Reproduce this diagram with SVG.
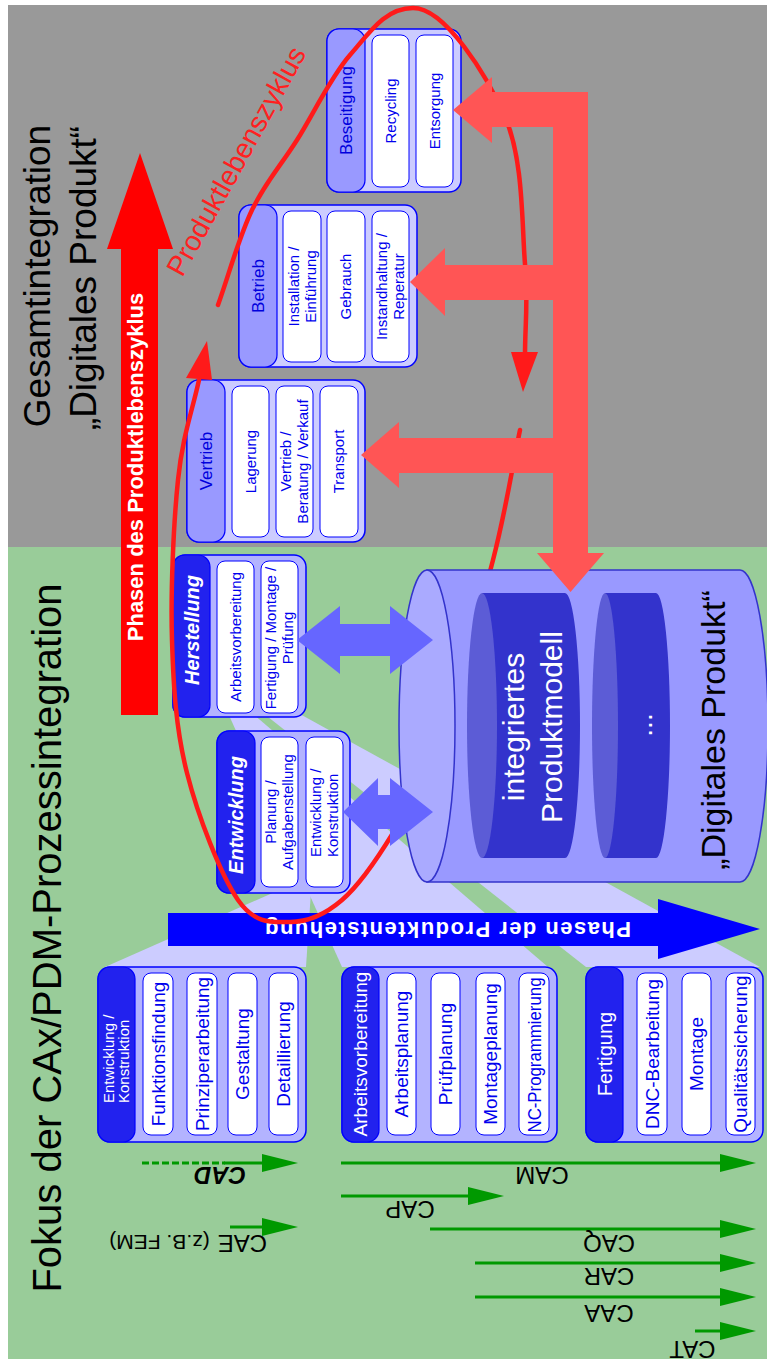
<svg xmlns="http://www.w3.org/2000/svg" width="767" height="1361" viewBox="0 0 767 1361">
<defs>
<style>
text{font-family:"Liberation Sans",Arial,sans-serif}
.ob{fill:#CCCCFF;stroke:#0000FF;stroke-width:1.5}
.obg{fill:#B3B3FF;stroke:#0000FF;stroke-width:1.5}
.hl{fill:#9999FF;stroke:#0000FF;stroke-width:1.2}
.hd{fill:#2222EE;stroke:#0000FF;stroke-width:1.2}
.it{fill:#FFFFFF;stroke:#0000FF;stroke-width:1}
.ti{fill:#0000EE;font-size:15px;text-anchor:middle}
.tb{fill:#0000EE;font-size:19px;text-anchor:middle}
.th{fill:#0000DD;font-size:17px;text-anchor:middle}
.tw{fill:#FFFFFF;text-anchor:middle}
.beam{fill:#CCCCFF}
.g{stroke:#009900;stroke-width:3;fill:none}
.gl{fill:#000000;font-size:24px;text-anchor:middle}
.big{fill:#000000;text-anchor:middle}
.rc{fill:none;stroke:#FF1A1A;stroke-width:4.5;stroke-linecap:round}
</style>
<marker id="gh" markerUnits="userSpaceOnUse" markerWidth="36" markerHeight="18" refX="0" refY="9" orient="auto" viewBox="0 0 36 18"><path d="M0,0 L36,9 L0,18 Z" fill="#009900"/></marker>
</defs>

<rect x="0" y="0" width="767" height="1361" fill="#FFFFFF"/>
<rect x="8" y="5" width="759" height="542" fill="#999999"/>
<rect x="8" y="547" width="759" height="812" fill="#99CC99"/>

<g id="beams">
<polygon class="beam" points="302,880 312,876 306,967 105,967"/>
<polygon class="beam" points="228,713 252,713 548,967 342,967"/>
<polygon class="beam" points="263,713 298,713 760,967 586,967"/>
</g>

<g id="phase-arrow-red">
<polygon points="121,715 121,249 107,249 140,153 173,249 158,249 158,715" fill="#FF0000"/>
<text class="tw" transform="translate(143,467) rotate(-90)" font-size="22" font-weight="bold">Phasen des Produktlebenszyklus</text>
</g>

<g id="phase-arrow-blue">
<polygon points="168,913 658,913 658,899 760,929 658,959 658,946 168,946" fill="#0000FF"/>
<text class="tw" transform="translate(448,930) rotate(180)" y="8" font-size="22" font-weight="bold" textLength="366" lengthAdjust="spacing">Phasen der Produktentstehung</text>
</g>

<g id="box-vertrieb">
<rect class="ob" x="187" y="380" width="178" height="162" rx="12"/>
<rect class="hl" x="187" y="380" width="38" height="162" rx="12"/>
<rect class="it" x="232" y="386" width="37" height="151" rx="8"/>
<rect class="it" x="276" y="386" width="37" height="151" rx="8"/>
<rect class="it" x="320" y="386" width="38" height="151" rx="8"/>
<text class="th" transform="translate(206,461) rotate(-90)" dy="0.35em">Vertrieb</text>
<text class="ti" transform="translate(250.5,461.5) rotate(-90)" dy="0.35em">Lagerung</text>
<text class="ti" transform="translate(294.5,461.5) rotate(-90)"><tspan x="0" y="-3.3">Vertrieb /</tspan><tspan x="0" y="13.8">Beratung / Verkauf</tspan></text>
<text class="ti" transform="translate(339,461.5) rotate(-90)" dy="0.35em">Transport</text>
</g>

<g id="box-betrieb">
<rect class="ob" x="239" y="205" width="178" height="162" rx="12"/>
<rect class="hl" x="239" y="205" width="38" height="162" rx="12"/>
<rect class="it" x="283" y="211" width="38" height="151" rx="8"/>
<rect class="it" x="327" y="211" width="38" height="151" rx="8"/>
<rect class="it" x="372" y="211" width="37" height="151" rx="8"/>
<text class="th" transform="translate(258,286) rotate(-90)" dy="0.35em">Betrieb</text>
<text class="ti" transform="translate(302,286.5) rotate(-90)"><tspan x="0" y="-3.3">Installation /</tspan><tspan x="0" y="13.8">Einführung</tspan></text>
<text class="ti" transform="translate(346,286.5) rotate(-90)" dy="0.35em">Gebrauch</text>
<text class="ti" transform="translate(390.5,286.5) rotate(-90)"><tspan x="0" y="-3.3">Instandhaltung /</tspan><tspan x="0" y="13.8">Reperatur</tspan></text>
</g>

<g id="box-beseitigung">
<rect class="ob" x="327" y="29" width="134" height="163" rx="12"/>
<rect class="hl" x="327" y="29" width="38" height="163" rx="12"/>
<rect class="it" x="372" y="35" width="37" height="152" rx="8"/>
<rect class="it" x="416" y="35" width="37" height="152" rx="8"/>
<text class="th" transform="translate(346,110.5) rotate(-90)" dy="0.35em">Beseitigung</text>
<text class="ti" transform="translate(390.5,111) rotate(-90)" dy="0.35em">Recycling</text>
<text class="ti" transform="translate(434.5,111) rotate(-90)" dy="0.35em">Entsorgung</text>
</g>

<g id="box-herstellung">
<rect class="obg" x="173" y="555" width="133" height="162" rx="12"/>
<rect class="hd" x="173" y="555" width="37" height="162" rx="12"/>
<rect class="it" x="217" y="561" width="37" height="152" rx="8"/>
<rect class="it" x="261" y="561" width="37" height="152" rx="8"/>
<text class="tw" transform="translate(191.5,630) rotate(-90)" dy="0.35em" font-size="20" font-weight="bold" font-style="italic">Herstellung</text>
<text class="ti" transform="translate(235.5,637) rotate(-90)" dy="0.35em">Arbeitsvorbereitung</text>
<text class="ti" transform="translate(279.5,638) rotate(-90)" font-size="14"><tspan x="0" y="-3.5">Fertigung / Montage /</tspan><tspan x="0" y="13">Prüfung</tspan></text>
</g>

<g id="box-entwicklung">
<rect class="obg" x="217" y="731" width="133" height="162" rx="12"/>
<rect class="hd" x="217" y="731" width="38" height="162" rx="12"/>
<rect class="it" x="261" y="737" width="37" height="150" rx="8"/>
<rect class="it" x="306" y="737" width="37" height="150" rx="8"/>
<text class="tw" transform="translate(236,815) rotate(-90)" dy="0.35em" font-size="20" font-weight="bold" font-style="italic">Entwicklung</text>
<text class="ti" transform="translate(279.5,812) rotate(-90)"><tspan x="0" y="-3.3">Planung /</tspan><tspan x="0" y="13.8">Aufgabenstellung</tspan></text>
<text class="ti" transform="translate(324.5,857) rotate(-90)" style="text-anchor:start"><tspan x="0" y="-3.3">Entwicklung /</tspan><tspan x="0" y="13.8">Konstruktion</tspan></text>
</g>

<g id="box-entwicklung-konstruktion">
<rect class="obg" x="98" y="967" width="208" height="175" rx="12"/>
<rect class="hd" x="98" y="967" width="37" height="175" rx="12"/>
<rect class="it" x="143" y="973" width="30" height="162" rx="8"/>
<rect class="it" x="187" y="973" width="30" height="162" rx="8"/>
<rect class="it" x="228" y="973" width="29" height="162" rx="8"/>
<rect class="it" x="269" y="973" width="29" height="162" rx="8"/>
<text class="tw" transform="translate(116.5,1103) rotate(-90)" font-size="15" style="text-anchor:start"><tspan x="0" y="-2.8">Entwicklung /</tspan><tspan x="0" y="12.5">Konstruktion</tspan></text>
<text class="tb" transform="translate(158,1054) rotate(-90)" dy="0.35em">Funktionsfindung</text>
<text class="tb" transform="translate(202,1054) rotate(-90)" dy="0.35em">Prinziperarbeitung</text>
<text class="tb" transform="translate(242.5,1054) rotate(-90)" dy="0.35em">Gestaltung</text>
<text class="tb" transform="translate(283.5,1054) rotate(-90)" dy="0.35em">Detaillierung</text>
</g>

<g id="box-arbeitsvorbereitung">
<rect class="obg" x="342" y="967" width="215" height="175" rx="12"/>
<rect class="hd" x="342" y="967" width="37" height="175" rx="12"/>
<rect class="it" x="387" y="973" width="29" height="162" rx="8"/>
<rect class="it" x="431" y="973" width="29" height="162" rx="8"/>
<rect class="it" x="476" y="973" width="29" height="162" rx="8"/>
<rect class="it" x="519" y="973" width="30" height="162" rx="8"/>
<text class="tw" transform="translate(360.5,1054) rotate(-90)" dy="0.35em" font-size="19">Arbeitsvorbereitung</text>
<text class="tb" transform="translate(401.5,1054) rotate(-90)" dy="0.35em">Arbeitsplanung</text>
<text class="tb" transform="translate(445.5,1054) rotate(-90)" dy="0.35em">Prüfplanung</text>
<text class="tb" transform="translate(490.5,1054) rotate(-90)" dy="0.35em">Montageplanung</text>
<text class="tb" transform="translate(534,1055) rotate(-90)" dy="0.35em" textLength="155" lengthAdjust="spacingAndGlyphs">NC-Programmierung</text>
</g>

<g id="box-fertigung">
<rect class="obg" x="586" y="967" width="177" height="175" rx="12"/>
<rect class="hd" x="586" y="967" width="37" height="175" rx="12"/>
<rect class="it" x="637" y="973" width="30" height="162" rx="8"/>
<rect class="it" x="682" y="973" width="29" height="162" rx="8"/>
<rect class="it" x="726" y="973" width="29" height="162" rx="8"/>
<text class="tw" transform="translate(604.5,1054) rotate(-90)" dy="0.35em" font-size="20">Fertigung</text>
<text class="tb" transform="translate(652,1054) rotate(-90)" dy="0.35em">DNC-Bearbeitung</text>
<text class="tb" transform="translate(696.5,1054) rotate(-90)" dy="0.35em">Montage</text>
<text class="tb" transform="translate(740.5,1054) rotate(-90)" dy="0.35em">Qualitätssicherung</text>
</g>

<g id="titles">
<text class="big" transform="translate(50,276) rotate(-90)" font-size="37">Gesamtintegration</text>
<text class="big" transform="translate(96,278) rotate(-90)" font-size="37">„Digitales Produkt“</text>
<text class="big" transform="translate(61,938) rotate(-90)" font-size="40">Fokus der CAx/PDM-Prozessintegration</text>
</g>

<g id="lifecycle-curve">
<path class="rc" d="M218,305 C229.3,273.3 238.8,237.5 252,210 C265.2,182.5 280.7,165.8 297,140 C313.3,114.2 330.7,77 350,55 C369.3,33 385,8 413,8 C445,8 486.3,74.3 505,117 C523.7,159.7 521.7,224.2 525,264 C528.3,303.8 525,323 525,356"/>
<path class="rc" d="M520,430 C511,473.3 506.3,508.3 493,560 C479.7,611.7 456.7,694.5 440,740 C423.3,785.5 409.3,806.3 393,833 C376.7,859.7 359.2,885.2 342,900 C324.8,914.8 307.3,922 290,922 C272.7,922 255.2,924.8 238,900 C220.8,875.2 198,816.3 187,773 C176,729.7 173.5,688.8 172,640 C170.5,591.2 173.5,523.7 178,480 C182.5,436.3 192,412 199,380"/>
<polygon points="207,341 186,378 212,380" fill="#FF1A1A"/>
<polygon points="523,392 511,352 538,352" fill="#FF1A1A"/>
<text transform="translate(236,161) rotate(-61)" dy="0.35em" font-size="28" fill="#FF2020" text-anchor="middle">Produktlebenszyklus</text>
</g>

<g id="digitales-produkt">
<path d="M427,570 L740,570 A28,156 0 0 1 740,882 L427,882 Z" fill="#9999FF" stroke="#3333CC" stroke-width="1.5"/>
<ellipse cx="427" cy="726" rx="28" ry="156" fill="#AAAAFF" stroke="#3333CC" stroke-width="1.5"/>
<path d="M482,593 L565,593 A15,132.5 0 0 1 565,858 L482,858 Z" fill="#3333CC"/>
<ellipse cx="482" cy="725.5" rx="15" ry="132.5" fill="#5C5CD6"/>
<path d="M605,593 L656,593 A14,132.5 0 0 1 656,858 L605,858 Z" fill="#3333CC"/>
<ellipse cx="605" cy="725.5" rx="13" ry="132.5" fill="#5C5CD6"/>
<text class="tw" transform="translate(524,727) rotate(-90)" font-size="30">integriertes</text>
<text class="tw" transform="translate(562,727) rotate(-90)" font-size="30">Produktmodell</text>
<text class="tw" transform="translate(652,725) rotate(-90)" font-size="28">...</text>
<text class="big" transform="translate(725,730) rotate(-90)" font-size="34">„Digitales Produkt“</text>
</g>

<g id="connectors">
<polygon points="297,640 340,606 340,624 390,624 390,606 433,640 390,674 390,656 340,656 340,674" fill="#6666FF"/>
<polygon points="343,812 378,778 378,795 390,795 390,778 433,812 390,846 390,829 378,829 378,846" fill="#6666FF"/>
<path d="M588,92 L588,553 L604,553 L570.5,592 L537,553 L553,553 L553,473 L399,473 L399,488 L361,455 L399,422 L399,438 L553,438 L553,300 L445,300 L445,316 L410,282 L445,248 L445,265 L553,265 L553,127 L492,127 L492,143 L453,110 L492,77 L492,92 Z" fill="#FF5555"/>
<line class="g" x1="142" y1="1163" x2="225" y2="1163" stroke-dasharray="7,3"/>
<line class="g" x1="224" y1="1163" x2="262" y2="1163" marker-end="url(#gh)"/>
<line class="g" x1="341" y1="1163" x2="720" y2="1163" marker-end="url(#gh)"/>
<line class="g" x1="341" y1="1196" x2="468" y2="1196" marker-end="url(#gh)"/>
<line class="g" x1="230" y1="1227" x2="262" y2="1227" marker-end="url(#gh)"/>
<line class="g" x1="430" y1="1229" x2="720" y2="1229" marker-end="url(#gh)"/>
<line class="g" x1="475" y1="1263" x2="720" y2="1263" marker-end="url(#gh)"/>
<line class="g" x1="475" y1="1297" x2="720" y2="1297" marker-end="url(#gh)"/>
<line class="g" x1="695" y1="1331" x2="720" y2="1331" marker-end="url(#gh)"/>
<text class="gl" transform="translate(220,1180) rotate(180)" y="12.6" font-size="36" font-weight="bold" font-style="italic">CAD</text>
<text class="gl" transform="translate(542,1175) rotate(180)" y="8.4">CAM</text>
<text class="gl" transform="translate(410,1209.5) rotate(180)" y="8.4">CAP</text>
<text class="gl" transform="translate(267,1243) rotate(180)" y="8.4" style="text-anchor:start"><tspan font-size="24">CAE</tspan><tspan font-size="21" dx="8">(z.B. FEM)</tspan></text>
<text class="gl" transform="translate(609,1243.5) rotate(180)" y="8.4">CAQ</text>
<text class="gl" transform="translate(609,1276.5) rotate(180)" y="8.4">CAR</text>
<text class="gl" transform="translate(609,1313.5) rotate(180)" y="8.4">CAA</text>
<text class="gl" transform="translate(692.5,1349) rotate(180)" y="8.4">CAT</text>
</g>
</svg>
